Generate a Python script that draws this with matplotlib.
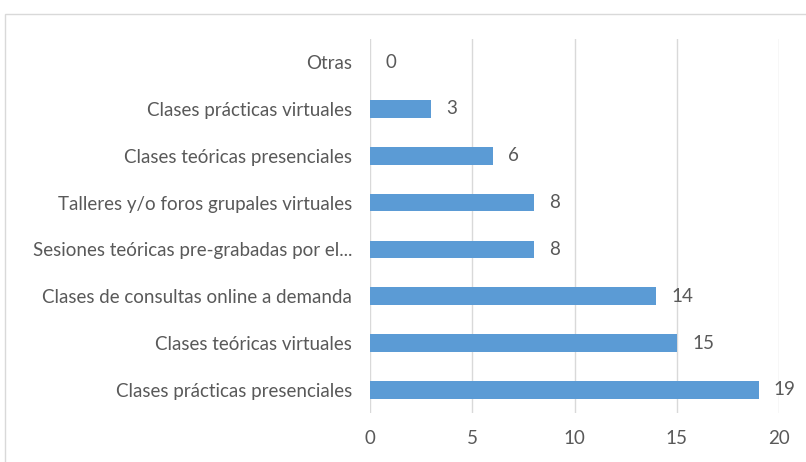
import matplotlib
matplotlib.use("Agg")
import matplotlib.pyplot as plt
from matplotlib.patches import Rectangle

categories = [
    "Clases prácticas presenciales",
    "Clases teóricas virtuales",
    "Clases de consultas online a demanda",
    "Sesiones teóricas pre-grabadas por el...",
    "Talleres y/o foros grupales virtuales",
    "Clases teóricas presenciales",
    "Clases prácticas virtuales",
    "Otras",
]
values = [19, 15, 14, 8, 8, 6, 3, 0]
xticks = [0, 5, 10, 15, 20]

plt.rcParams['font.family'] = ['Lato', 'DejaVu Sans']
text_color = "#595959"
bar_color = "#5B9BD5"
grid_color = "#D9D9D9"
fs = 13.5

fig = plt.figure(figsize=(8.06, 4.62), dpi=100)
fig.patches.append(Rectangle((5/806, -0.1), 1.2, 1 - 14/462 + 0.1,
                             transform=fig.transFigure, fill=False,
                             edgecolor=grid_color, linewidth=1.0))

ax = fig.add_axes([370/806, 1 - 413.4/462, (779 - 370)/806, (413.4 - 38.6)/462])
y = list(range(len(categories)))
ax.barh(y, values, height=0.375, color=bar_color, zorder=3)
for yi, v in zip(y, values):
    ax.annotate(str(v), (v, yi), xytext=(11, 0), textcoords="offset points",
                va="center", ha="left", fontsize=fs, color=text_color)

ax.set_xlim(0, 20)
ax.set_ylim(-0.5, len(categories) - 0.5)
ax.set_xticks(xticks)
ax.set_xticklabels([str(t) for t in xticks])
ax.set_yticks(y)
ax.set_yticklabels(categories)
ax.tick_params(axis='both', length=0, labelsize=fs, colors=text_color)
ax.tick_params(axis='y', pad=13)
ax.tick_params(axis='x', pad=12)
ax.grid(axis='x', color=grid_color, linewidth=1.0, zorder=0)
for s in ax.spines.values():
    s.set_visible(False)

fig.savefig("out.png", dpi=100)
